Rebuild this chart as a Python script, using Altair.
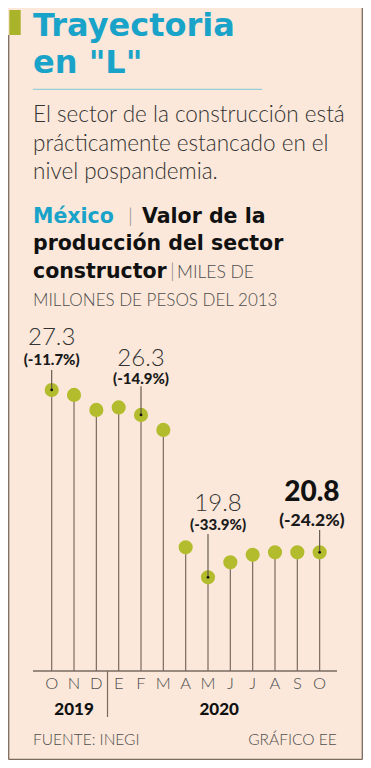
import altair as alt
import pandas as pd

# ---------------- data ----------------
MONTHS = ["O", "N", "D", "E", "F", "M", "A", "M", "J", "J", "A", "S", "O"]
YEARS = [2019, 2019, 2019, 2020, 2020, 2020, 2020, 2020, 2020, 2020, 2020, 2020, 2020]
VALUES = [27.3, 27.1, 26.5, 26.6, 26.3, 25.7, 21.0, 19.8, 20.4, 20.7, 20.8, 20.8, 20.8]

ANN_IDX = [0, 4, 7, 12]
ANN_VALUE_TEXT = ["27.3", "26.3", "19.8", "20.8"]
ANN_PCT_TEXT = ["(-11.7%)", "(-14.9%)", "(-33.9%)", "(-24.2%)"]

TITLE_LINES = ["Trayectoria", 'en "L"']
SUBTITLE_LINES = [
    "El sector de la construcción está",
    "prácticamente estancado en el",
    "nivel pospandemia.",
]
HEAD_COUNTRY = "México"
HEAD_1 = "Valor de la"
HEAD_2 = "producción del sector"
HEAD_3 = "constructor"
UNIT_1 = "MILES DE"
UNIT_2 = "MILLONES DE PESOS DEL 2013"
SOURCE = "FUENTE: INEGI"
CREDIT = "GRÁFICO EE"

# ---------------- style / layout ----------------
BG = "#FBE8DA"
CYAN = "#1AA3C9"
OLIVE = "#B3BC2C"
LINE = "#7A6A5F"
DARK = "#333333"
GREY = "#4D4D4D"
SEP = "#8C8C8C"
LIGHT_FONT = "Lato"
BOLD_FONT = "DejaVu Sans"

W, H = 304, 351
PAD = {"left": 25, "top": 312, "right": 26, "bottom": 89}
X_DOMAIN = [-0.837, 12.777]
Y_DOMAIN = [16.05, 30.10]
PX_PER_UNIT = H / (Y_DOMAIN[1] - Y_DOMAIN[0])

X_SCALE = alt.Scale(domain=X_DOMAIN, nice=False, zero=False)
Y_SCALE = alt.Scale(domain=Y_DOMAIN, nice=False, zero=False)

# per annotation: x shift (index units), dy of value, dy of pct, leader length (px),
# value size, value weight, pct size
ANN_LAYOUT = [
    (0.0, -51.5, -30.0, 20.0, 24, 300, 15),
    (0.0, -55.7, -35.7, 28.7, 24, 300, 15),
    (0.45, -73.3, -52.3, 43.3, 24, 300, 15),
    (-0.35, -59.3, -31.8, 22.3, 28, 900, 17.5),
]

df = pd.DataFrame({"idx": list(range(len(MONTHS))), "month": MONTHS,
                   "year": YEARS, "value": VALUES})
ONE = pd.DataFrame({"a": ["k"]})

x_plain = alt.X("idx:Q", scale=X_SCALE, axis=None)
y_plain = alt.Y("value:Q", scale=Y_SCALE, axis=None)

base = alt.Chart(df)
stems = base.mark_rule(color=LINE, strokeWidth=1.2).encode(
    x=x_plain, y=y_plain, y2=alt.value(H))
circles = base.mark_circle(size=200, color=OLIVE, opacity=1).encode(x=x_plain, y=y_plain)

# axis line along the bottom of the plot
axis_df = pd.DataFrame({"x0": [X_DOMAIN[0]], "x1": [X_DOMAIN[1]], "v": [Y_DOMAIN[0]]})
axis_line = alt.Chart(axis_df).mark_rule(color=LINE, strokeWidth=1.3).encode(
    x=alt.X("x0:Q", scale=X_SCALE, axis=None), x2="x1:Q",
    y=alt.Y("v:Q", scale=Y_SCALE, axis=None))
month_labels = base.mark_text(
    baseline="alphabetic", align="center", fontSize=16.5, fontWeight=300,
    font=LIGHT_FONT, color=GREY).encode(x=x_plain, y=alt.value(369.3), text="month:N")

layers = [stems, circles, axis_line, month_labels]

for k, i in enumerate(ANN_IDX):
    shift, dyv, dyp, lead, vsize, vweight, psize = ANN_LAYOUT[k]
    row = pd.DataFrame({"idx": [i], "value": [VALUES[i]], "lx": [i + shift],
                        "top": [VALUES[i] + lead / PX_PER_UNIT],
                        "vt": [ANN_VALUE_TEXT[k]], "pt": [ANN_PCT_TEXT[k]]})
    c = alt.Chart(row)
    layers.append(c.mark_rule(color="#5A4E46", strokeWidth=1.1).encode(
        x=x_plain, y=y_plain, y2="top:Q"))
    layers.append(c.mark_circle(size=8, color="#111111", opacity=1).encode(x=x_plain, y=y_plain))
    lx = alt.X("lx:Q", scale=X_SCALE, axis=None)
    layers.append(c.mark_text(dy=dyv, baseline="middle", align="center", fontSize=vsize,
                              fontWeight=vweight, font=LIGHT_FONT,
                              color=DARK if vweight < 500 else "#111111").encode(
        x=lx, y=y_plain, text="vt:N"))
    layers.append(c.mark_text(dy=dyp, baseline="middle", align="center", fontSize=psize,
                              fontWeight=900, font=LIGHT_FONT, color="#1A1A1A").encode(
        x=lx, y=y_plain, text="pt:N"))

# years under axis
year_df = df.groupby("year", as_index=False)["idx"].mean()
year_df["label"] = year_df["year"].astype(str)
layers.append(alt.Chart(year_df).mark_text(
    baseline="alphabetic", align="center", fontSize=17, fontWeight=900,
    font=LIGHT_FONT, color="#111111").encode(
    x=alt.X("idx:Q", scale=X_SCALE, axis=None), y=alt.value(395), text="label:N"))
# divider between years
split_df = pd.DataFrame({"idx": [YEARS.index(2020) - 0.5]})
layers.append(alt.Chart(split_df).mark_rule(color=LINE, strokeWidth=1.2).encode(
    x=alt.X("idx:Q", scale=X_SCALE, axis=None), y=alt.value(H), y2=alt.value(397)))


def rule(x, x2, y, y2, color=LINE, width=1.3):
    return alt.Chart(ONE).mark_rule(color=color, strokeWidth=width).encode(
        x=alt.value(x), x2=alt.value(x2), y=alt.value(y), y2=alt.value(y2),
        detail="a:N")


# frame and decorations
layers += [
    rule(-24.3, -24.3, -285, 439.5),
    rule(329.3, 329.3, -312, 439.5),
    rule(-24.3, 329.3, 439.5, 439.5),
    alt.Chart(ONE).mark_rect(color="#A9B42A").encode(
        x=alt.value(-23.7), x2=alt.value(-12.3), y=alt.value(-310), y2=alt.value(-285),
        detail="a:N"),
    rule(0, 229, -230.7, -230.7, color="#96CDD6", width=1.2),
]


def txt(text, x, y, size, weight=300, color=DARK, align="left", font=LIGHT_FONT):
    return alt.Chart(pd.DataFrame({"t": [text]})).mark_text(
        align=align, baseline="alphabetic", fontSize=size,
        fontWeight=weight, font=font, color=color,
    ).encode(x=alt.value(x), y=alt.value(y), text="t:N")


# texts
layers += [
    txt(TITLE_LINES[0], 0, -284, 32, "bold", CYAN, font=BOLD_FONT),
    txt(TITLE_LINES[1], 0, -247.5, 32, "bold", CYAN, font=BOLD_FONT),
    txt(SUBTITLE_LINES[0], 0, -198.3, 22.5),
    txt(SUBTITLE_LINES[1], 0, -169.5, 22.5),
    txt(SUBTITLE_LINES[2], 0, -141.5, 22.5),
    txt(HEAD_COUNTRY, 0, -97, 20.5, "bold", CYAN, font=BOLD_FONT),
    txt("|", 95, -97, 20, 300, SEP),
    txt(HEAD_1, 109, -97, 20.5, "bold", "#111111", font=BOLD_FONT),
    txt(HEAD_2, 0, -70, 20.5, "bold", "#111111", font=BOLD_FONT),
    txt(HEAD_3, 0, -42, 20.5, "bold", "#111111", font=BOLD_FONT),
    txt("|", 137, -42, 20, 300, SEP),
    txt(UNIT_1, 144, -42, 17.5, 300, GREY),
    txt(UNIT_2, 0, -14, 17, 300, GREY),
    txt(SOURCE, 0, 425, 15.5, 300, GREY),
    txt(CREDIT, 303.7, 425, 15.5, 300, GREY, align="right"),
]

chart = alt.layer(*layers).properties(
    width=W, height=H, padding=PAD,
    autosize=alt.AutoSizeParams(type="none"),
    background=BG,
).configure_view(stroke=None)

chart.save("out.html", embed_options={"renderer": "svg", "actions": False})
